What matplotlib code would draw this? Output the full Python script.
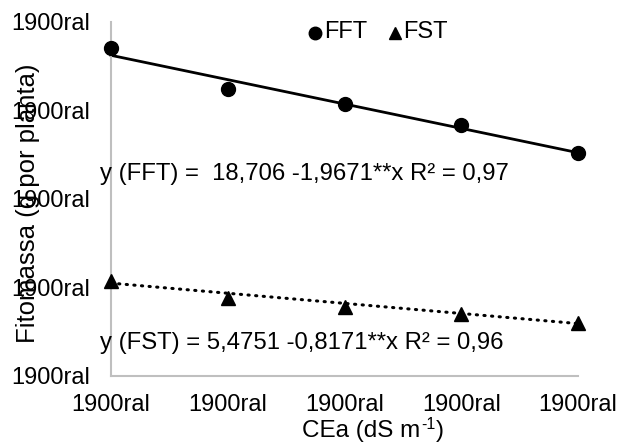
import matplotlib
matplotlib.use("Agg")
import matplotlib.pyplot as plt
import numpy as np
from matplotlib.lines import Line2D

plt.rcParams['font.family'] = ['Liberation Sans', 'DejaVu Sans']

cea = [0.3, 1.0, 1.7, 2.4, 3.1]
fft = [18.51, 16.19, 15.36, 14.17, 12.57]
fst = [5.35, 4.39, 3.88, 3.51, 2.97]
fft_coef = (18.706, -1.9671)
fst_coef = (5.4751, -0.8171)
yticks = [0, 5, 10, 15, 20]
tick_text = "1900ral"
eq_fft = "y (FFT) =  18,706 -1,9671**x R² = 0,97"
eq_fst = "y (FST) = 5,4751 -0,8171**x R² = 0,96"
series_names = ["FFT", "FST"]
xlabel_parts = ["CEa (dS m", "-1", ")"]

W, H = 622, 446
fig = plt.figure(figsize=(W / 100, H / 100), dpi=100)
ax = fig.add_axes([111 / W, 1 - 375.6 / H, (578 - 111) / W, (375.6 - 22) / H])

xs = np.array([cea[0], cea[-1]])
ax.plot(xs, fft_coef[0] + fft_coef[1] * xs, color='black', lw=2, clip_on=False, zorder=2)
ax.plot(xs, fst_coef[0] + fst_coef[1] * xs, color='black', lw=2.2, ls=(0, (0.4, 2.1)),
        dash_capstyle='round', clip_on=False, zorder=2)
ax.plot(cea, fft, 'o', color='black', ms=10, clip_on=False, zorder=3)
ax.plot(cea, fst, '^', color='black', ms=10, clip_on=False, zorder=3)

ax.set_xlim(cea[0], cea[-1])
ax.set_ylim(yticks[0], yticks[-1])
ax.set_xticks(cea)
ax.set_xticklabels([tick_text] * len(cea))
ax.set_yticks(yticks)
ax.set_yticklabels([tick_text] * len(yticks))
ax.tick_params(axis='both', length=0, labelsize=17)
ax.tick_params(axis='y', pad=15)
ax.tick_params(axis='x', pad=13)

for s in ['top', 'right']:
    ax.spines[s].set_visible(False)
for s in ['left', 'bottom']:
    ax.spines[s].set_color('#BFBFBF')
    ax.spines[s].set_linewidth(1.5)

ax.text(0.235, 11.43, eq_fft, fontsize=17.2, va='center', ha='left')
ax.text(0.232, 1.85, eq_fst, fontsize=17.2, va='center', ha='left')

fig.text(28 / W, 1 - 203 / H, "Fitomassa (g por planta)", rotation=90, fontsize=18.5,
         ha='center', va='center')

# x label with Excel-style superscript (hyphen)
fig.canvas.draw()
renderer = fig.canvas.get_renderer()
x0 = 302
ybase = 1 - 437 / H
t1 = fig.text(x0 / W, ybase, xlabel_parts[0], fontsize=17.5, ha='left', va='baseline')
w1 = t1.get_window_extent(renderer).width
t2 = fig.text((x0 + w1 + 0.5) / W, ybase + 8 / H, xlabel_parts[1], fontsize=11.5,
              ha='left', va='baseline')
w2 = t2.get_window_extent(renderer).width
fig.text((x0 + w1 + w2 + 1) / W, ybase, xlabel_parts[2], fontsize=17.5, ha='left',
         va='baseline')

# legend
fig.add_artist(Line2D([315 / W], [1 - 32.5 / H], marker='o', color='black', ms=9,
                      ls='none', transform=fig.transFigure))
fig.add_artist(Line2D([395 / W], [1 - 32.5 / H], marker='^', color='black', ms=9,
                      ls='none', transform=fig.transFigure))
fig.text(324 / W, 1 - 32.5 / H, series_names[0], fontsize=17, ha='left', va='center')
fig.text(403 / W, 1 - 32.5 / H, series_names[1], fontsize=17, ha='left', va='center')

fig.savefig("out.png", dpi=100)
